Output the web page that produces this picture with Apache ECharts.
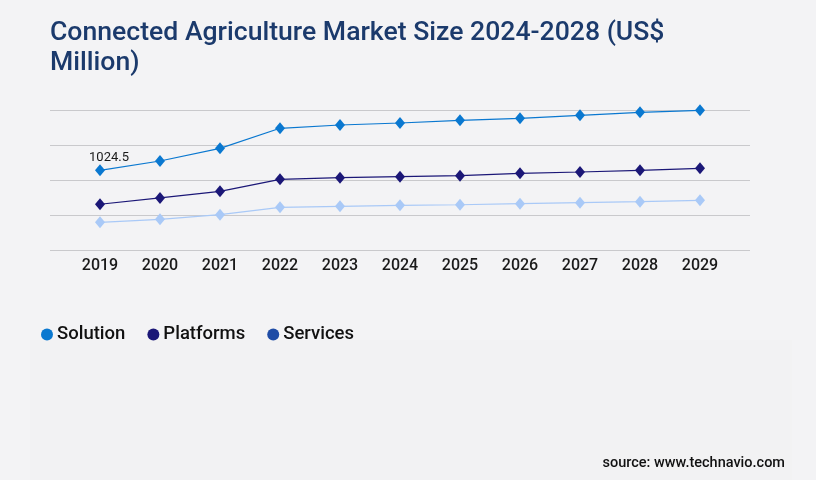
<!DOCTYPE html>
<html>
<head>
<meta charset="utf-8">
<script src="https://cdn.jsdelivr.net/npm/echarts@6/dist/echarts.min.js"></script>
<style>
html,body{margin:0;padding:0;background:#f3f3f5;}
#chart{width:816px;height:480px;}
</style>
</head>
<body>
<div id="chart"></div>
<script>
const years = ['2019','2020','2021','2022','2023','2024','2025','2026','2027','2028','2029'];
const solution = [1024.5, 1144, 1307, 1565, 1607, 1633, 1667, 1693, 1732, 1770, 1796];
const platforms = [588, 669, 754, 909, 930, 943, 955, 986, 1003, 1025, 1050];
const services = [356, 395, 454, 549, 562, 575, 582, 595, 608, 621, 639];
const seriesNames = ['Solution', 'Platforms', 'Services'];

const chart = echarts.init(document.getElementById('chart'));
const lineColors = ['#0a78d0', '#1b1777', '#a9c9f7'];
const legendColors = ['#0a78d0', '#1b1777', '#1f4ca6'];
const dataSets = [solution, platforms, services];
const fontFam = 'Roboto, "Noto Sans", sans-serif';

chart.setOption({
  backgroundColor: '#f3f3f5',
  animation: false,
  title: {
    text: 'Connected Agriculture Market Size 2024-2028 (US$ Million)',
    left: 45, top: 13,
    textStyle: {
      color: '#1b3a6c', fontSize: 26.6, fontWeight: 500, fontFamily: fontFam,
      lineHeight: 30, width: 650, overflow: 'break'
    }
  },
  graphic: [{
    type: 'rect', z: -10, silent: true,
    shape: {x: 30, y: 340, width: 762, height: 140},
    style: {fill: '#f2f2f3'}
  }, {
    type: 'text', right: 31, top: 456,
    style: {text: 'source: www.technavio.com', fill: '#111', font: '500 14.5px Roboto, sans-serif'}
  }],
  legend: {
    left: 36, top: 320,
    itemWidth: 12, itemHeight: 12, itemGap: 22,
    icon: 'circle',
    textStyle: {fontSize: 18.5, fontWeight: 500, color: '#111', fontFamily: fontFam, padding: [0,0,0,-1]},
    data: seriesNames.map((n, i) => ({name: n, itemStyle: {color: legendColors[i]}}))
  },
  grid: [
    {left: 50, right: 66, top: 110, bottom: 230},
    {left: 100, right: 116, top: 110, bottom: 230}
  ],
  xAxis: [
    {gridIndex: 0, type: 'value', show: false},
    {gridIndex: 1, type: 'category', data: years, boundaryGap: false,
     axisLine: {show: false}, axisTick: {show: false},
     axisLabel: {margin: 8, fontSize: 16, fontWeight: 500, color: '#1a1a1a', fontFamily: fontFam}}
  ],
  yAxis: [
    {gridIndex: 0, type: 'value', min: 0, max: 1800, interval: 450,
     axisLabel: {show: false}, axisLine: {show: false}, axisTick: {show: false},
     splitLine: {show: true, lineStyle: {color: '#c9c9cc', width: 1}}},
    {gridIndex: 1, type: 'value', min: 0, max: 1800, interval: 450, show: false,
     splitLine: {show: false}}
  ],
  series: dataSets.map((d, i) => ({
    name: seriesNames[i], type: 'line', xAxisIndex: 1, yAxisIndex: 1,
    data: d, symbol: 'diamond', symbolSize: [10, 12],
    itemStyle: {color: lineColors[i]},
    lineStyle: {color: lineColors[i], width: 1.2},
    label: {
      show: i === 0, position: 'top', distance: 4, offset: [9, 4],
      color: '#1a1a1a', fontSize: 13, fontFamily: fontFam,
      formatter: p => p.dataIndex === 0 ? String(p.value) : ''
    }
  }))
});
</script>
</body>
</html>
